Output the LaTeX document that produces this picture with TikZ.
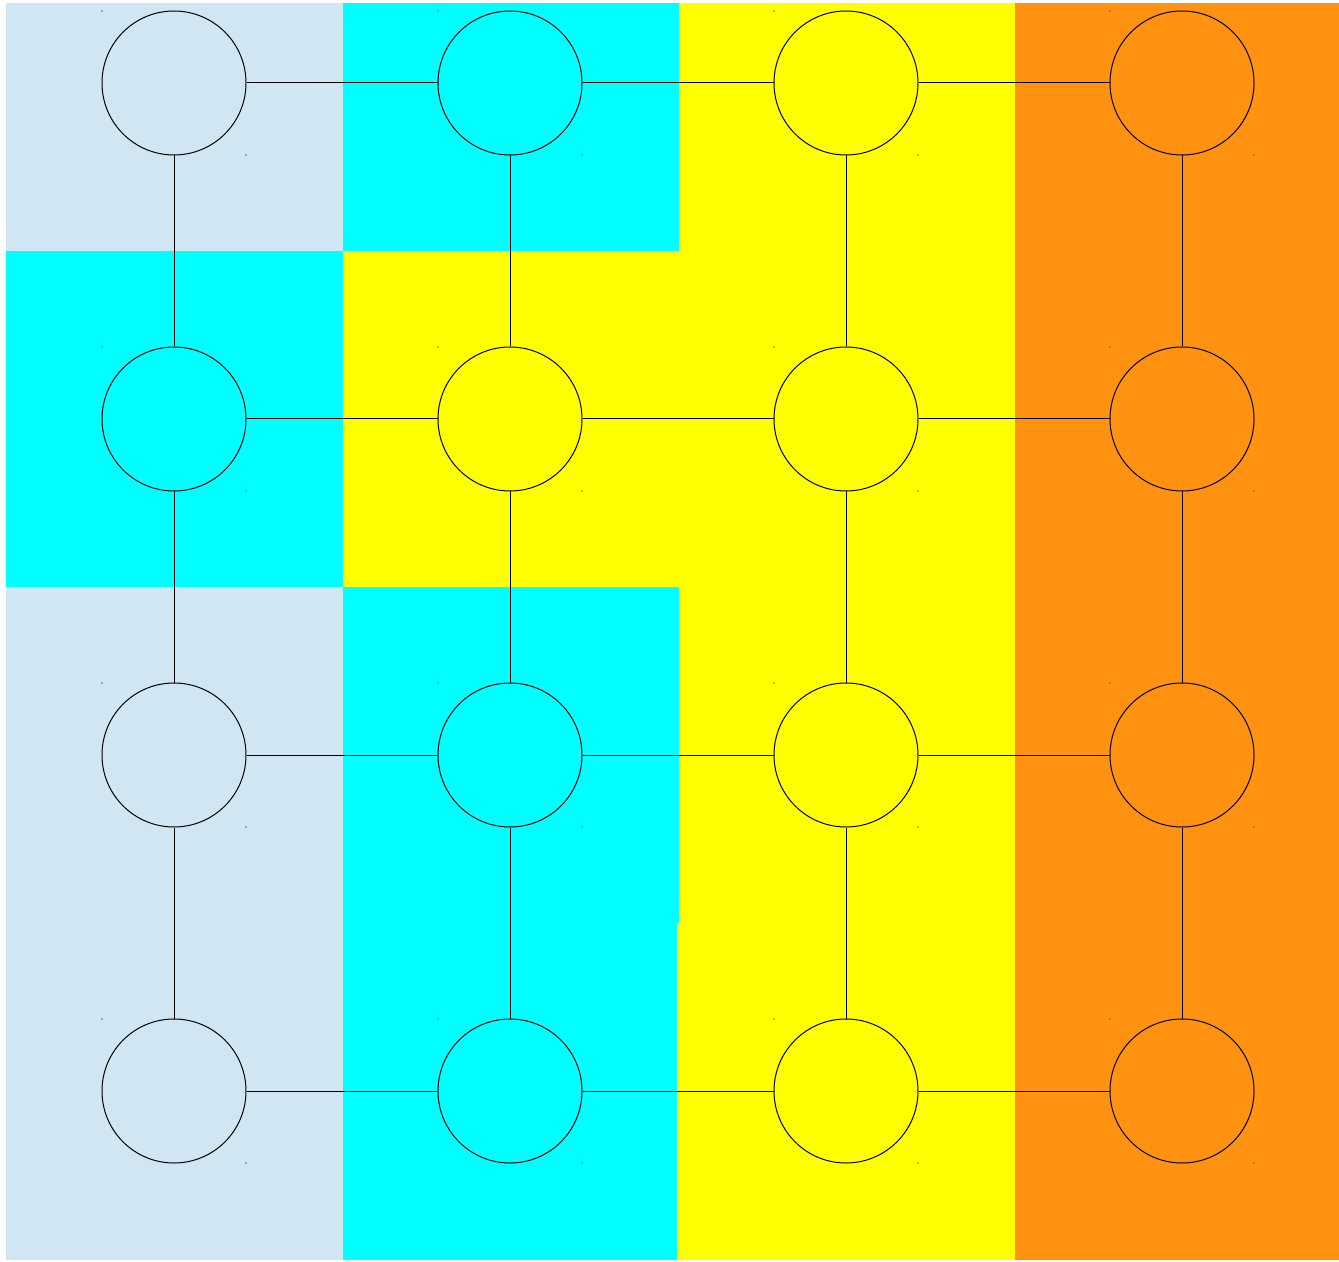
\documentclass[tikz,border=0pt]{standalone}
\definecolor{lblue}{HTML}{D0E6F3}
\definecolor{cyanc}{HTML}{00FFFF}
\definecolor{yell}{HTML}{FFFF00}
\definecolor{orng}{HTML}{FF9210}
\tikzset{
  vert/.style={circle, draw=black, line width=0.5pt, minimum size=144*0.5pt, inner sep=0pt},
  edge/.style={draw=black, line width=0.5pt},
  tick/.style={fill=black!60, draw=none}
}
\begin{document}
\begin{tikzpicture}[x=0.5pt,y=-0.5pt]
\useasboundingbox (0,0) rectangle (1339,1262);
\fill[white] (0,0) rectangle (1339,1262);
% cells row 1
\fill[lblue] (6,3) rectangle (343,251);
\fill[cyanc] (343,3) rectangle (679,251);
\fill[yell] (679,3) rectangle (1015,251);
\fill[orng] (1015,3) rectangle (1339,251);
% row 2
\fill[cyanc] (6,251) rectangle (343,587);
\fill[yell] (343,251) rectangle (679,587);
\fill[yell] (679,251) rectangle (1015,587);
\fill[orng] (1015,251) rectangle (1339,587);
% row 3
\fill[lblue] (6,587) rectangle (343,923);
\fill[cyanc] (343,587) rectangle (679,923);
\fill[yell] (679,587) rectangle (1015,923);
\fill[orng] (1015,587) rectangle (1339,923);
% row 4
\fill[lblue] (6,923) rectangle (343,1260);
\fill[cyanc] (343,923) rectangle (677,1260);
\fill[yell] (677,923) rectangle (1015,1260);
\fill[orng] (1015,923) rectangle (1339,1260);
% nodes
\foreach \c/\x in {1/174,2/510,3/846,4/1182}{
  \foreach \r/\y in {1/83,2/419,3/755,4/1091}{
    \node[vert] (n\r\c) at (\x,\y) {};
    \fill[tick] (\x-72,\y-72) circle (0.8);
    \fill[tick] (\x+72,\y+72) circle (0.8);
  }
}
% edges
\foreach \r in {1,2,3,4}{
  \draw[edge] (n\r1) -- (n\r2);
  \draw[edge] (n\r2) -- (n\r3);
  \draw[edge] (n\r3) -- (n\r4);
}
\foreach \c in {1,2,3,4}{
  \draw[edge] (n1\c) -- (n2\c);
  \draw[edge] (n2\c) -- (n3\c);
  \draw[edge] (n3\c) -- (n4\c);
}
\end{tikzpicture}
\end{document}
